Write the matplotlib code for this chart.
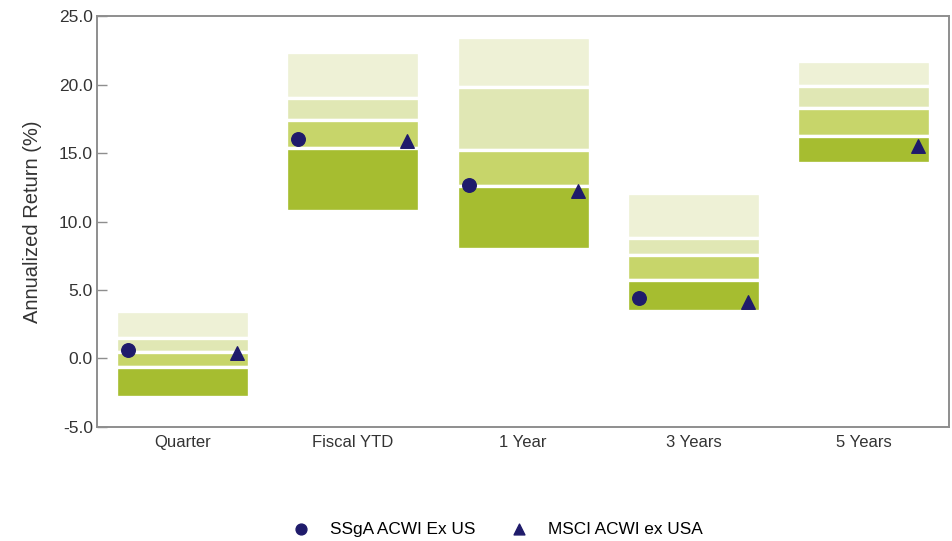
import numpy as np
import matplotlib
matplotlib.use("Agg")
import matplotlib.pyplot as plt

plt.rcParams["font.family"] = ["Liberation Sans", "DejaVu Sans"]

# percentile ranges (top to bottom boundaries of the four bands)
categories = ["Quarter", "Fiscal YTD", "1 Year", "3 Years", "5 Years"]
p95 = [3.5, 22.4, 23.5, 12.1, 21.7]
p75 = [1.5, 19.0, 19.85, 8.8, 19.9]
p50 = [0.45, 17.4, 15.2, 7.55, 18.3]
p25 = [-0.6, 15.35, 12.6, 5.75, 16.25]
p5 = [-2.8, 10.8, 8.0, 3.5, 14.25]

ssga = [0.6, 16.05, 12.65, 4.4, np.nan]
msci = [0.4, 15.9, 12.2, 4.1, 15.5]

band_colors = ["#eef1d6", "#e0e7b4", "#c7d56a", "#a6bd30"]
marker_color = "#1f1b6b"
spine_color = "#8e8e8e"


def main():
    fig = plt.figure(figsize=(9.52, 5.41), dpi=100)
    ax = fig.add_axes([0.102, 0.211, 0.895, 0.759])

    x = np.arange(len(categories))
    bounds = [p95, p75, p50, p25, p5]
    for j in range(4):
        top = np.array(bounds[j])
        bot = np.array(bounds[j + 1])
        ax.bar(x, top - bot, bottom=bot, width=0.78, color=band_colors[j],
               edgecolor="white", linewidth=2.4, zorder=2)

    ax.scatter(x - 0.32, ssga, marker="o", s=95, color=marker_color,
               zorder=3, label="SSgA ACWI Ex US")
    ax.scatter(x + 0.32, msci, marker="^", s=95, color=marker_color,
               zorder=3, label="MSCI ACWI ex USA")

    ax.set_xlim(-0.5, 4.5)
    ax.set_ylim(-5, 25)
    ax.set_yticks(np.arange(-5, 26, 5))
    ax.set_yticklabels([f"{v:.1f}" for v in np.arange(-5, 26, 5)], fontsize=12.5,
                       color="#333333")
    ax.set_xticks(x)
    ax.set_xticklabels(categories, fontsize=12, color="#333333")
    ax.tick_params(axis="y", direction="in", length=7, width=1, color=spine_color, pad=3)
    ax.tick_params(axis="x", length=0, pad=6)
    ax.set_ylabel("Annualized Return (%)", fontsize=14.5, color="#333333", labelpad=12)

    for sp in ax.spines.values():
        sp.set_color(spine_color)
        sp.set_linewidth(1.4)

    fig.legend(loc="center", bbox_to_anchor=(0.518, 0.022), ncol=2, frameon=False,
               fontsize=12.4, markerscale=0.8, handletextpad=0.7, columnspacing=1.5)

    plt.savefig("out.png", dpi=100)
    plt.close()


if __name__ == "__main__":
    main()
